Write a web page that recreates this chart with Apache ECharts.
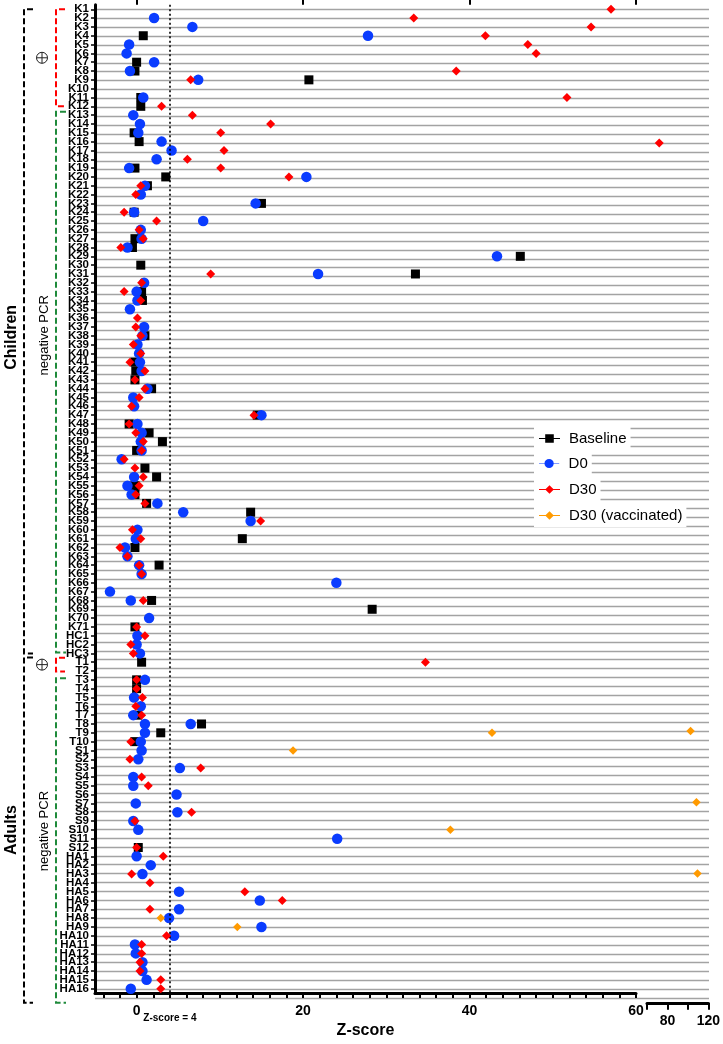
<!DOCTYPE html>
<html><head><meta charset="utf-8">
<script src="https://cdn.jsdelivr.net/npm/echarts@6/dist/echarts.min.js"></script>
<style>html,body{margin:0;padding:0;background:#fff}#c{width:723px;height:1044px}</style>
</head><body><div id="c"></div>
<script>
// ---- categories (rows, top to bottom) ----
const categories = [
 'K1','K2','K3','K4','K5','K6','K7','K8','K9','K10','K11','K12','K13','K14','K15','K16','K17','K18','K19','K20',
 'K21','K22','K23','K24','K25','K26','K27','K28','K29','K30','K31','K32','K33','K34','K35','K36','K37','K38','K39','K40',
 'K41','K42','K43','K44','K45','K46','K47','K48','K49','K50','K51','K52','K53','K54','K55','K56','K57','K58','K59','K60',
 'K61','K62','K63','K64','K65','K66','K67','K68','K69','K70','K71','HC1','HC2','HC3',
 'T1','T2','T3','T4','T5','T6','T7','T8','T9','T10',
 'S1','S2','S3','S4','S5','S6','S7','S8','S9','S10','S11','S12',
 'HA1','HA2','HA3','HA4','HA5','HA6','HA7','HA8','HA9','HA10','HA11','HA12','HA13','HA14','HA15','HA16'
];
const _ = null;
// ---- Z-scores per row (null = no point) ----
const baseline = [
 _,_,_,0.8,_,_,0.0,-0.2,20.7,_,0.5,0.5,_,_,-0.3,0.3,_,_,-0.2,3.5,
 1.3,_,15.0,-0.3,_,_,-0.2,-0.5,46.1,0.5,33.5,_,0.6,0.7,_,_,_,1.0,_,_,
 -0.2,-0.1,-0.2,1.8,_,_,14.5,-0.9,1.5,3.1,0.0,_,1.0,2.4,-0.2,-0.2,1.2,13.7,_,_,
 12.7,-0.2,_,2.7,_,_,_,1.8,28.3,_,-0.2,_,_,_,
 0.6,_,0.0,0.0,_,_,0.1,7.8,2.9,-0.2,
 _,_,_,_,_,_,_,_,_,_,_,0.2,
 _,_,_,_,_,_,_,_,_,_,_,_,_,_,_,_
];
const d0 = [
 _,2.1,6.7,27.8,-0.9,-1.2,2.1,-0.8,7.4,_,0.8,_,-0.4,0.4,0.2,3.0,4.2,2.4,-0.9,20.4,
 1.0,0.5,14.3,-0.3,8.0,0.5,0.6,-1.1,43.3,_,21.8,0.9,0.0,0.1,-0.8,_,0.9,0.7,0.1,0.3,
 0.4,0.6,_,1.3,-0.4,-0.3,15.0,0.1,0.6,0.5,0.6,-1.8,_,-0.3,-1.1,-0.6,2.5,5.6,13.7,0.1,
 -0.1,-1.4,-1.1,0.3,0.6,24.0,-3.2,-0.7,_,1.5,_,0.1,0.0,0.4,
 _,_,1.0,_,-0.3,0.5,-0.4,[1.0,6.5],1.0,0.5,
 0.6,0.2,5.2,-0.4,-0.4,4.8,-0.1,4.9,-0.4,0.2,24.1,_,
 0.0,1.7,0.7,_,5.1,14.8,5.1,3.9,15.0,4.5,-0.2,-0.1,0.7,0.7,1.2,-0.7
];
const d30 = [
 57.0,33.3,54.6,41.9,47.0,48.0,_,38.4,6.5,_,51.7,3.0,6.7,16.1,10.1,72,10.5,6.1,10.1,18.3,
 0.5,-0.1,_,-1.5,2.4,0.3,0.8,-1.9,_,_,8.9,0.6,-1.5,0.5,_,0.1,-0.1,0.5,-0.4,0.5,
 -0.8,1.0,-0.2,1.0,0.3,-0.6,14.1,-0.9,-0.1,0.8,0.6,-1.5,-0.2,0.8,0.3,-0.1,1.0,_,14.9,-0.5,
 0.5,-2.0,-1.1,0.3,0.6,_,_,0.8,_,_,0.0,1.0,-0.7,-0.4,
 34.7,_,0.0,0.0,0.7,-0.1,0.6,_,_,-0.7,
 _,-0.8,7.7,0.6,1.4,_,_,6.6,-0.2,_,_,0.0,
 3.2,_,-0.6,1.6,13.0,17.5,1.6,_,_,3.6,0.6,0.6,0.4,0.4,2.9,2.9
];
const d30vac = [
 _,_,_,_,_,_,_,_,_,_,_,_,_,_,_,_,_,_,_,_,
 _,_,_,_,_,_,_,_,_,_,_,_,_,_,_,_,_,_,_,_,
 _,_,_,_,_,_,_,_,_,_,_,_,_,_,_,_,_,_,_,_,
 _,_,_,_,_,_,_,_,_,_,_,_,_,_,
 _,_,_,_,_,_,_,102.6,42.7,_,
 18.8,_,_,_,_,108.4,_,_,_,37.7,_,_,
 _,109.4,_,_,_,_,_,2.9,12.1,_,_,_,_,_,_,_
];
// ---- axis ticks ----
const leftTicks = [-4,-2,0,2,4,6,8,10,12,14,16,18,20,22,24,26,28,30,32,34,36,38,40,42,44,46,48,50,52,54,56,58,60];
const leftLabels = [0,20,40,60];
const rightTicks = [60,80,100,120];
const rightLabels = [80,120];
const thresholdZ = 4;

const FONT = '"Liberation Sans", Arial, sans-serif';
const seriesDefs = [
  {name:'Baseline', data:baseline, symbol:'rect', size:9, color:'#000000', z:3,
   icon:'path://M0 4.6H6.5V0.5H15.5V4.6H22V5.4H15.5V9.5H6.5V5.4H0Z'},
  {name:'D0', data:d0, symbol:'circle', size:10.5, color:'#0a3cff', z:4,
   icon:'path://M0 4.6H6A5 4.5 0 0 1 16 4.6H22V5.4H16A5 4.5 0 0 1 6 5.4H0Z'},
  {name:'D30', data:d30, symbol:'diamond', size:9, color:'#ff0000', z:5,
   icon:'path://M0 4.6H7L11 0.5L15 4.6H22V5.4H15L11 9.5L7 5.4H0Z'},
  {name:'D30 (vaccinated)', data:d30vac, symbol:'diamond', size:8.5, color:'#ff9a00', z:6,
   icon:'path://M0 4.5H7L11 0.5L15 4.5H22V5.5H15L11 9.5L7 5.5H0Z'}
];
function pairs(arr, lo, hi){
  const out=[];
  arr.forEach((v,i)=>{ if(v==null) return; (Array.isArray(v)?v:[v]).forEach(x=>{ if(x>lo && x<=hi) out.push([x,categories[i]]); }); });
  return out;
}
const N = categories.length;
const band = 8.91;
const gTop = 4.85, gH = band*N;

const series = [];
seriesDefs.forEach(d=>{
  [[0,-100,60],[1,60,1000]].forEach(([gi,lo,hi])=>{
    series.push({type:'scatter', name:d.name, xAxisIndex: gi===0?0:2, yAxisIndex: gi===0?0:1,
      data: pairs(d.data, lo, hi), symbol:d.symbol, symbolSize:d.size, z:d.z,
      itemStyle:{color:d.color, opacity:1}, silent:true});
  });
});
series.push({type:'scatter', xAxisIndex:0, yAxisIndex:0, data:[], z:1, silent:true,
  markLine:{silent:true, symbol:['none','none'], label:{show:false},
    lineStyle:{color:'#000', type:[2,2.5], width:1.6}, data:[{xAxis:thresholdZ}]}});
series.push({type:'scatter', xAxisIndex:3, yAxisIndex:2, data:[], silent:true});

const legendTops = [427, 452, 478, 504];
const option = {
  backgroundColor:'#fff',
  animation:false,
  grid:[
    {left:95, top:gTop, width:541, height:gH},
    {left:647, top:gTop, width:62, height:gH},
    {left:95, top:gTop+band/2, width:614, height:band*(N-1)}
  ],
  xAxis:[
    {type:'value', gridIndex:0, min:-5, max:60, z:3,
     axisLine:{show:true, onZero:false, lineStyle:{color:'#000', width:3}},
     axisTick:{show:true, customValues:leftTicks, length:5, lineStyle:{color:'#000', width:2}},
     axisLabel:{customValues:leftLabels, fontSize:14, fontWeight:'bold', color:'#000', fontFamily:FONT, margin:11},
     splitLine:{show:false},
     name:'Z-score', nameLocation:'middle', nameGap:25,
     nameTextStyle:{fontSize:16, fontWeight:'bold', color:'#000', fontFamily:FONT}},
    {type:'value', gridIndex:0, min:-5, max:60, z:3,
     axisLine:{show:false}, axisTick:{show:true, customValues:leftLabels, length:9, lineStyle:{color:'#000', width:2}},
     axisLabel:{show:false}, splitLine:{show:false}},
    {type:'value', gridIndex:1, min:60, max:120, z:3,
     axisLine:{show:true, onZero:false, lineStyle:{color:'#000', width:3}},
     axisTick:{show:true, customValues:rightTicks, length:7, lineStyle:{color:'#000', width:2}},
     axisLabel:{customValues:rightLabels, fontSize:14, fontWeight:'bold', color:'#000', fontFamily:FONT, margin:11},
     splitLine:{show:false}},
    {type:'value', gridIndex:2, min:0, max:1, show:false}
  ],
  yAxis:[
    {type:'category', gridIndex:0, data:categories, inverse:true, z:3,
     axisLine:{show:true, onZero:false, lineStyle:{color:'#000', width:3}},
     axisTick:{show:true, alignWithLabel:true, interval:0, length:4, lineStyle:{color:'#000', width:1.5}},
     axisLabel:{interval:0, fontSize:11.5, fontWeight:'bold', color:'#000', fontFamily:FONT, margin:6, hideOverlap:false},
     splitLine:{show:false}},
    {type:'category', gridIndex:1, data:categories, inverse:true, show:false},
    {type:'category', gridIndex:2, data:categories, inverse:true, boundaryGap:false, z:0,
     axisLine:{show:false}, axisTick:{show:false}, axisLabel:{show:false},
     splitLine:{show:true, interval:0, lineStyle:{color:'#a3a3a3', width:1.4}}}
  ],
  legend: seriesDefs.map((d,i)=>({
    data:[{name:d.name, icon:d.icon}], left:534, top:legendTops[i], orient:'vertical',
    itemWidth:21, itemHeight:9, backgroundColor:'#fff', padding:[4,4,4,5], selectedMode:false,
    textStyle:{fontSize:15, color:'#000', fontFamily:FONT, padding:[0,0,0,4]}, z:10
  })),
  series: series
};
const chart = echarts.init(document.getElementById('c'), null, {renderer:'canvas'});
chart.setOption(option);

const yp = c => chart.convertToPixel({yAxisIndex:0}, c);
const xp = v => chart.convertToPixel({xAxisIndex:0}, v);
function bracket(x, y1, y2, foot, color){
  return {type:'polyline', silent:true, z:5,
    shape:{points:[[x+foot,y1],[x,y1],[x,y2],[x+foot,y2]]},
    style:{stroke:color, lineWidth:2, lineDash:[6,3], fill:null}};
}
function plus(x, y){
  return [
    {type:'circle', silent:true, z:5, shape:{cx:x, cy:y, r:5.5}, style:{stroke:'#222', lineWidth:1, fill:'#fff'}},
    {type:'line', silent:true, z:5, shape:{x1:x-5.5, y1:y, x2:x+5.5, y2:y}, style:{stroke:'#222', lineWidth:1}},
    {type:'line', silent:true, z:5, shape:{x1:x, y1:y-5.5, x2:x, y2:y+5.5}, style:{stroke:'#222', lineWidth:1}}
  ];
}
function vtext(str, x, y, size, weight){
  return {type:'text', silent:true, z:5, x:x, y:y, rotation:Math.PI/2,
    style:{text:str, fontSize:size, fontWeight:weight, fontFamily:FONT, fill:'#000', align:'center', verticalAlign:'middle'}};
}
const BLACK='#000', RED='#ff0000', GREEN='#1f8a3b';
const yK1=yp('K1'), yK12=yp('K12'), yK13=yp('K13'), yHC3=yp('HC3'), yT1=yp('T1'), yT2=yp('T2'), yT3=yp('T3'), yHA16=yp('HA16');
const gBottom = gTop + gH;
const childMid = (yK1+yHC3)/2, adultMid = (yHC3+4+gBottom)/2;
const els = [
  bracket(24, yK1, yHC3, 9, BLACK),
  bracket(24, yHC3+4, gBottom, 9, BLACK),
  bracket(56, yK1, yK12, 9, RED),
  bracket(56, yK13-3.5, yHC3-1, 10, GREEN),
  bracket(56, yT1-4.5, yT2+0.5, 9, RED),
  bracket(56, yT3-1.5, gBottom, 10, GREEN),
  vtext('Children', 12, childMid+6, 16, 'bold'),
  vtext('Adults', 12, adultMid, 16, 'bold'),
  vtext('negative PCR', 44, childMid+4, 13, 'normal'),
  vtext('negative PCR', 44, adultMid+1, 13, 'normal'),
  ...plus(42, (yK1+yK12)/2),
  ...plus(42, (yT1-4.5+yT2+0.5)/2),
  {type:'text', silent:true, z:5, x:xp(thresholdZ), y:gBottom+15,
   style:{text:'Z-score = 4', fontSize:10, fontWeight:'bold', fontFamily:FONT, fill:'#000', align:'center', verticalAlign:'middle'}}
];
chart.setOption({graphic: els});
</script>
</body></html>
